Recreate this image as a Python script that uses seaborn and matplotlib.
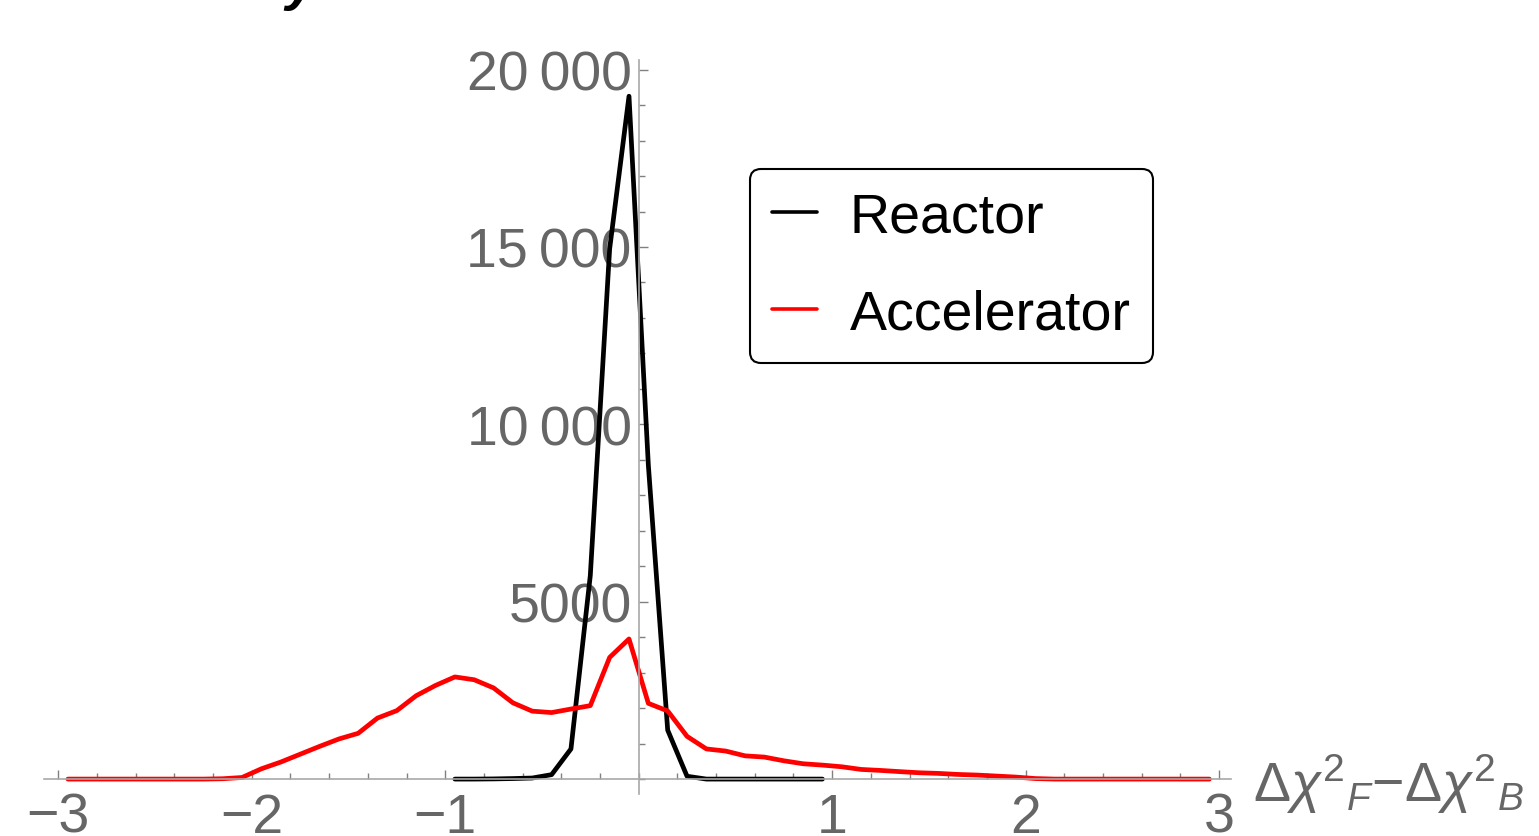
import matplotlib
matplotlib.use('Agg')
import matplotlib.pyplot as plt
import seaborn as sns
from matplotlib.ticker import MultipleLocator

# bin centres and counts
reactor_x = [-0.95, -0.85, -0.75, -0.65, -0.55, -0.45, -0.35, -0.25, -0.15, -0.05,
             0.05, 0.15, 0.25, 0.35, 0.45, 0.55, 0.65, 0.75, 0.85, 0.95]
reactor_y = [0, 0, 5, 15, 30, 125, 850, 5740, 14950, 19250,
             8850, 1380, 80, 0, 0, 0, 0, 0, 0, 0]

accel_x = [-2.95, -2.85, -2.75, -2.65, -2.55, -2.45, -2.35, -2.25, -2.15, -2.05,
           -1.95, -1.85, -1.75, -1.65, -1.55, -1.45, -1.35, -1.25, -1.15, -1.05,
           -0.95, -0.85, -0.75, -0.65, -0.55, -0.45, -0.35, -0.25, -0.15, -0.05,
           0.05, 0.15, 0.25, 0.35, 0.45, 0.55, 0.65, 0.75, 0.85, 0.95,
           1.05, 1.15, 1.25, 1.35, 1.45, 1.55, 1.65, 1.75, 1.85, 1.95,
           2.05, 2.15, 2.25, 2.35, 2.45, 2.55, 2.65, 2.75, 2.85, 2.95]
accel_y = [0, 0, 0, 0, 0, 0, 0, 0, 10, 45,
           290, 480, 700, 920, 1130, 1290, 1720, 1930, 2350, 2640,
           2880, 2800, 2570, 2150, 1915, 1875, 1975, 2070, 3430, 3950,
           2135, 1920, 1205, 850, 790, 655, 620, 516, 432, 394,
           347, 272, 244, 210, 178, 160, 131, 113, 85, 56,
           15, 0, 0, 0, 0, 0, 0, 0, 0, 0]

x_ticks = [-3, -2, -1, 1, 2, 3]
x_tick_labels = ['\u22123', '\u22122', '\u22121', '1', '2', '3']
y_ticks = [5000, 10000, 15000, 20000]
y_tick_labels = ['5000', '10\u2009000', '15\u2009000', '20\u2009000']

sns.set_style('white')
plt.rcParams['font.family'] = ['Liberation Sans', 'DejaVu Sans']
plt.rcParams['mathtext.fontset'] = 'custom'
plt.rcParams['mathtext.rm'] = 'Liberation Sans'
plt.rcParams['mathtext.it'] = 'Liberation Sans:italic'

W, H = 1539, 837
fig = plt.figure(figsize=(W / 100, H / 100), dpi=100)
ax = fig.add_axes([0.0288, 0.0502, 0.771, 0.8773])
ax.set_axisbelow(True)

sns.lineplot(x=reactor_x, y=reactor_y, ax=ax, color='black', lw=3.4, label='Reactor')
sns.lineplot(x=accel_x, y=accel_y, ax=ax, color='#ff0000', lw=3.4, label='Accelerator')

ax.set_xlim(-3.072, 3.061)
ax.set_ylim(-420, 20280)

for side in ['top', 'right']:
    ax.spines[side].set_visible(False)
for side in ['left', 'bottom']:
    ax.spines[side].set_position(('data', 0))
    ax.spines[side].set_color('#a8a8a8')
    ax.spines[side].set_linewidth(1.2)

ax.set_xticks(x_ticks, x_tick_labels)
ax.set_yticks(y_ticks, y_tick_labels)
ax.xaxis.set_minor_locator(MultipleLocator(0.2))
ax.yaxis.set_minor_locator(MultipleLocator(1000))
ax.tick_params(which='both', bottom=True, left=True, direction='in',
               color='#808080', width=1, labelsize=40, labelcolor='#666666')
ax.tick_params(which='major', length=6.3)
ax.tick_params(which='minor', length=4)
ax.tick_params(axis='x', which='major', pad=9)
ax.tick_params(axis='y', which='major', pad=5)

fig.text(1253 / W, 1 - 802 / H,
         r'$\Delta\chi^{2}{}_{F}{-}\Delta\chi^{2}{}_{B}$',
         fontsize=40, color='#666666', ha='left', va='baseline')

# clipped plot label at the very top
fig.text(285 / W, 1 + 1 / H, 'y', fontsize=40, fontweight='bold',
         fontstyle='italic', color='black', ha='left', va='baseline')

leg = ax.legend(loc='upper left', bbox_to_anchor=(750 / W, 1 - 170 / H),
                bbox_transform=fig.transFigure, borderaxespad=0, fontsize=40,
                frameon=True, fancybox=True, edgecolor='black', framealpha=1,
                handlelength=0.8, handletextpad=0.6, labelspacing=0.82,
                borderpad=0.4)
leg.get_frame().set_linewidth(1.5)
for line in leg.get_lines():
    line.set_linewidth(2.6)
for t in leg.get_texts():
    t.set_color('black')

fig.savefig('out.png', dpi=100)
